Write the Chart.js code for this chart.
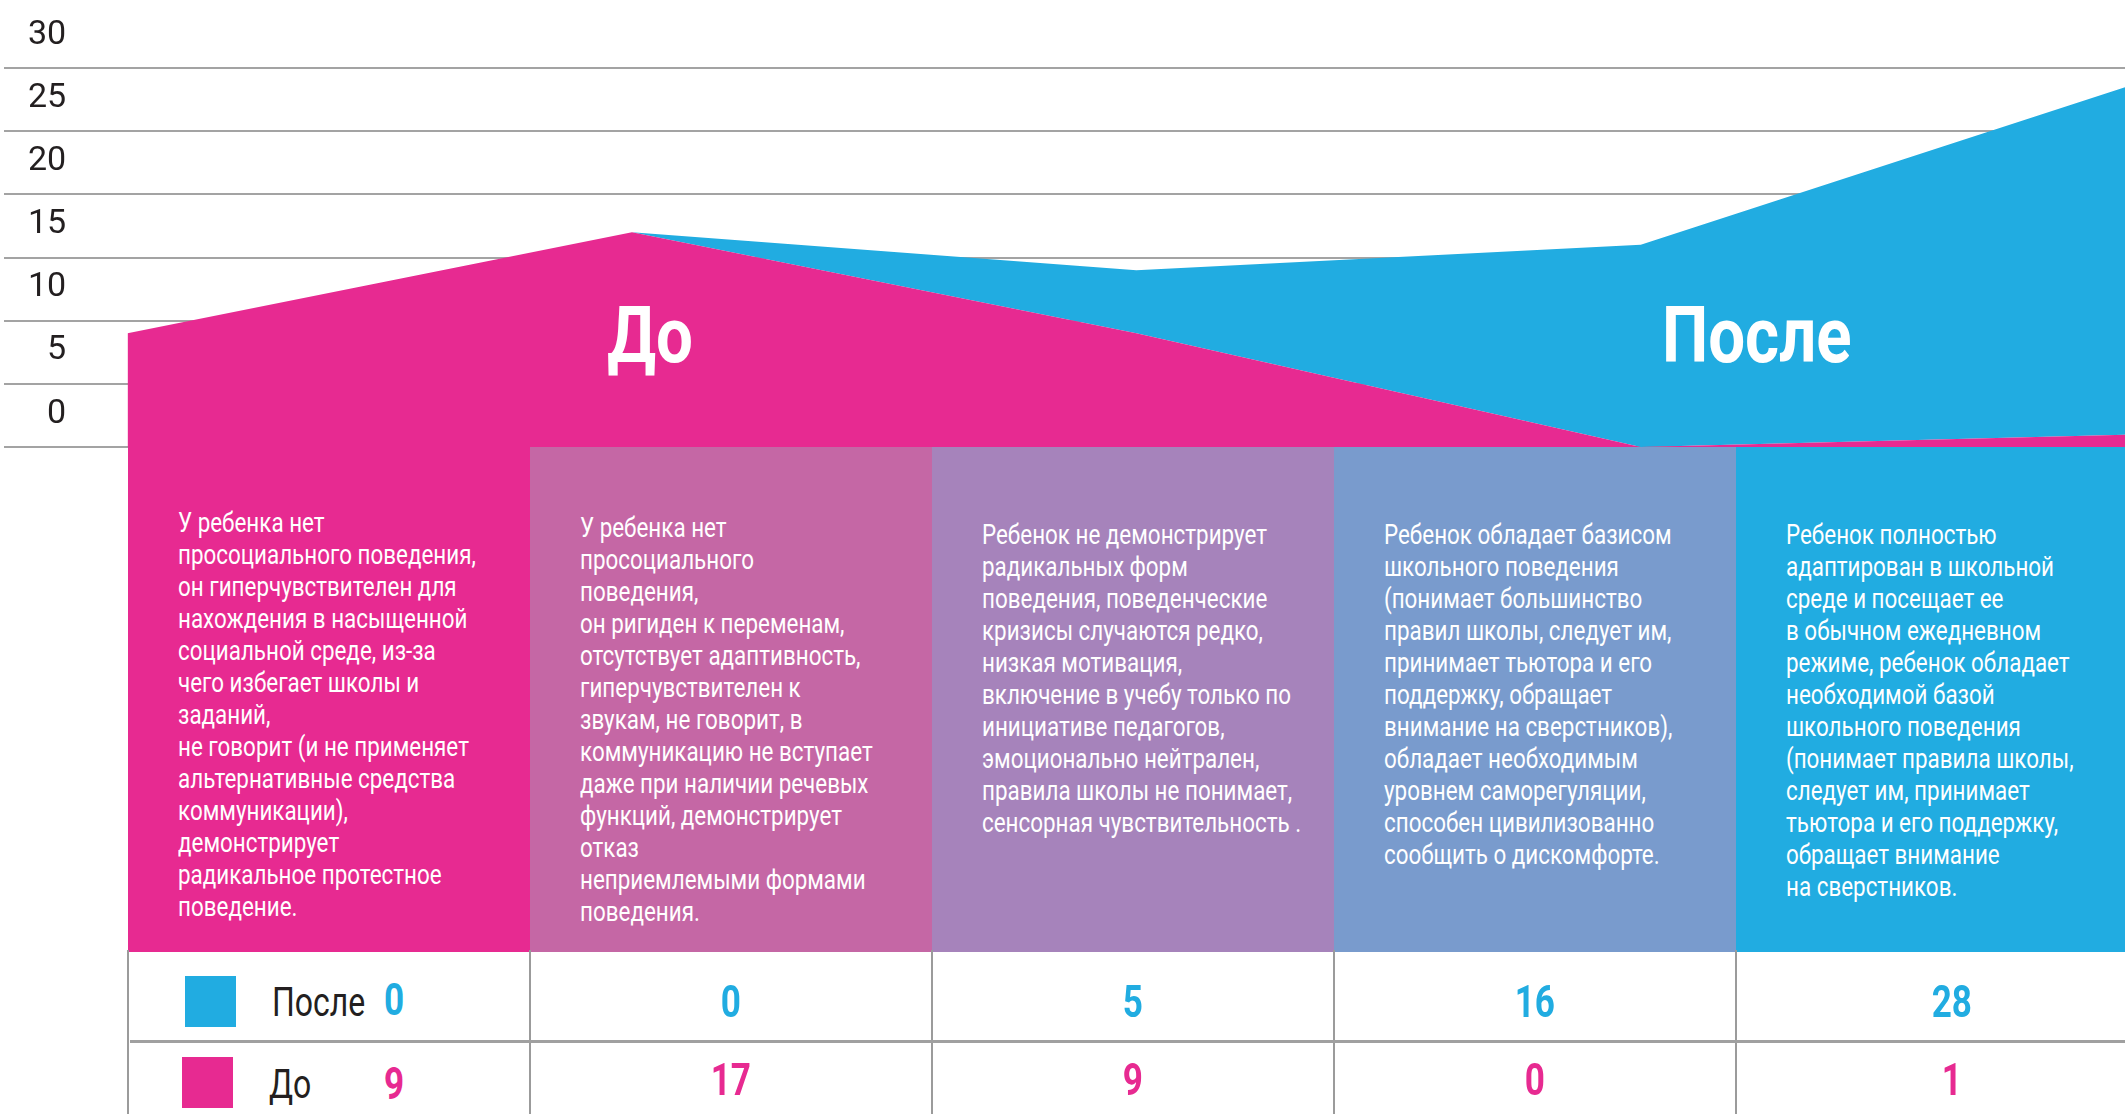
<!DOCTYPE html>
<html lang="ru">
<head>
<meta charset="utf-8">
<title>До / После</title>
<script src="https://cdn.jsdelivr.net/npm/chart.js@4.4.0/dist/chart.umd.min.js"></script>
<style>
    body { margin: 0; width: 2125px; height: 1114px; overflow: hidden; background: #fff; position: relative; font-family: Roboto, 'Noto Sans', sans-serif; color: #231F20; }
    #chart-wrap { position: absolute; left: 0; top: 0; width: 2125px; height: 449px; }
    .cell { position: absolute; top: 447px; height: 505px; width: 402px; box-sizing: border-box; padding-left: 50px; color: #fff; }
    .cell .txt { white-space: pre; font-size: 28px; line-height: 32px; transform: scaleX(0.8); transform-origin: 0 0; }
    .cell:nth-child(1) .txt { padding-top: 60px; }
    .cell:nth-child(2) .txt { padding-top: 65px; }
    .cell:nth-child(n+3) .txt { padding-top: 72px; }
    .vline { position: absolute; top: 950px; height: 164px; width: 2px; background: #9b9b9b; }
    .hline { position: absolute; left: 130px; top: 1040px; width: 2000px; height: 3px; background: #a0a0a0; }
    .val { position: absolute; width: 402px; text-align: center; font-weight: 700; font-size: 45px; line-height: 45px; }
    .val span, .lbl span { display: inline-block; transform: scaleX(0.78); }
    .val.first { width: auto; text-align: left; }
    .val.first span { transform-origin: 0 0; }
    .lbl { position: absolute; font-size: 41px; line-height: 41px; }
    .lbl span { transform-origin: 0 0; }
    .sq { position: absolute; width: 51px; height: 51px; }
</style>
</head>
<body>
<div id="chart-wrap"><canvas id="areaChart" width="2125" height="449"></canvas></div>
<div id="cells"></div>
<div id="table"></div>

<script>
// --- Data ---
const seriesNames = ['До', 'После'];
const before = [9, 17, 9, 0, 1];
const after = [0, 0, 5, 16, 28];
const yTicks = [0, 5, 10, 15, 20, 25, 30];
const stages = [
    'У ребенка нет\nпросоциального поведения,\nон гиперчувствителен для\nнахождения в насыщенной\nсоциальной среде, из-за\nчего избегает школы и\nзаданий,\nне говорит (и не применяет\nальтернативные средства\nкоммуникации),\nдемонстрирует\nрадикальное протестное\nповедение.',
    'У ребенка нет\nпросоциального\nповедения,\nон ригиден к переменам,\nотсутствует адаптивность,\nгиперчувствителен к\nзвукам, не говорит, в\nкоммуникацию не вступает\nдаже при наличии речевых\nфункций, демонстрирует\nотказ\nнеприемлемыми формами\nповедения.',
    'Ребенок не демонстрирует\nрадикальных форм\nповедения, поведенческие\nкризисы случаются редко,\nнизкая мотивация,\nвключение в учебу только по\nинициативе педагогов,\nэмоционально нейтрален,\nправила школы не понимает,\nсенсорная чувствительность .',
    'Ребенок обладает базисом\nшкольного поведения\n(понимает большинство\nправил школы, следует им,\nпринимает тьютора и его\nподдержку, обращает\nвнимание на сверстников),\nобладает необходимым\nуровнем саморегуляции,\nспособен цивилизованно\nсообщить о дискомфорте.',
    'Ребенок полностью\nадаптирован в школьной\nсреде и посещает ее\nв обычном ежедневном\nрежиме, ребенок обладает\nнеобходимой базой\nшкольного поведения\n(понимает правила школы,\nследует им, принимает\nтьютора и его поддержку,\nобращает внимание\nна сверстников.'
];

const PINK = '#E72A91';
const BLUE = '#21ACE1';
const cellColors = [PINK, '#C567A5', '#A683BB', '#799BCD', BLUE];

// --- Big labels inside the areas ---
const areaLabels = {
    id: 'areaLabels',
    afterDatasetsDraw(chart) {
        const { ctx, scales: { x, y } } = chart;
        const spots = [[seriesNames[0], 1.036], [seriesNames[1], 3.23]];
        ctx.save();
        ctx.fillStyle = '#fff';
        ctx.font = 'bold 77px Roboto';
        ctx.textAlign = 'center';
        ctx.textBaseline = 'alphabetic';
        spots.forEach(([text, at]) => {
            ctx.save();
            ctx.translate(x.getPixelForValue(at), y.getPixelForValue(6.75));
            ctx.scale(0.85, 1);
            ctx.fillText(text, 0, 0);
            ctx.restore();
        });
        ctx.restore();
    }
};

// --- Stacked area chart ---
const ctx = document.getElementById('areaChart').getContext('2d');
new Chart(ctx, {
    type: 'line',
    data: {
        datasets: [
            {
                label: seriesNames[0],
                data: before.map((v, i) => ({ x: i, y: v })),
                backgroundColor: PINK,
                fill: 'origin',
                borderWidth: 0,
                pointRadius: 0,
                tension: 0
            },
            {
                label: seriesNames[1],
                data: after.map((v, i) => ({ x: i, y: v })),
                backgroundColor: BLUE,
                fill: '-1',
                borderWidth: 0,
                pointRadius: 0,
                tension: 0
            }
        ]
    },
    options: {
        responsive: false,
        animation: false,
        layout: { padding: { left: 4, top: 68, right: 0, bottom: 2 } },
        plugins: { legend: { display: false }, tooltip: { enabled: false } },
        scales: {
            // last stage runs a little past the right edge, as in the original
            x: { type: 'linear', min: -0.245, max: 3.96, display: false },
            y: {
                stacked: true,
                min: 0,
                max: 30,
                afterBuildTicks: (s) => { s.ticks = yTicks.map(v => ({ value: v })); },
                // labels sit inside the plot, so the axis takes no room
                afterFit: (s) => { s.width = 0; s.paddingTop = 0; s.paddingBottom = 0; },
                ticks: {
                    mirror: true,
                    crossAlign: 'far',
                    padding: 24,
                    labelOffset: -33,
                    color: '#231F20',
                    font: { family: 'Roboto', size: 34 }
                },
                grid: { color: '#A3A3A3', lineWidth: 2, drawTicks: false },
                border: { display: false }
            }
        }
    },
    plugins: [areaLabels]
});

// --- Description cells ---
const COL_LEFT = 128;
const COL_W = 402;
const LAST_W = 432;
const cells = document.getElementById('cells');
stages.forEach((text, i) => {
    const cell = document.createElement('div');
    cell.className = 'cell';
    cell.style.left = (COL_LEFT + COL_W * i) + 'px';
    if (i === stages.length - 1) cell.style.width = LAST_W + 'px';
    cell.style.background = cellColors[i];
    const t = document.createElement('div');
    t.className = 'txt';
    t.textContent = text;
    cell.appendChild(t);
    cells.appendChild(cell);
});

// --- Values table ---
const table = document.getElementById('table');
function add(cls, styles, html) {
    const el = document.createElement('div');
    el.className = cls;
    Object.assign(el.style, styles);
    if (html !== undefined) el.innerHTML = html;
    table.appendChild(el);
    return el;
}

for (let i = 0; i < stages.length; i++) {
    add('vline', { left: (COL_LEFT - 1 + COL_W * i) + 'px' });
}
add('hline', {});

// legend in first column
add('sq', { left: '185px', top: '976px', background: BLUE });
add('sq', { left: '182px', top: '1057px', background: PINK });
add('lbl', { left: '272px', top: '982px' }, '<span>' + seriesNames[1] + '</span>');
add('lbl', { left: '269px', top: '1064px' }, '<span>' + seriesNames[0] + '</span>');

function colStyle(i, top, color) {
    const w = i === stages.length - 1 ? LAST_W : COL_W;
    return { left: (COL_LEFT + COL_W * i) + 'px', width: w + 'px', top: top + 'px', color: color };
}

const rowTop = { after: 979, before: 1057 };
after.forEach((v, i) => {
    if (i === 0) {
        add('val first', { left: '384px', top: (rowTop.after - 2) + 'px', color: BLUE }, '<span>' + v + '</span>');
    } else {
        add('val', colStyle(i, rowTop.after, BLUE), '<span>' + v + '</span>');
    }
});
before.forEach((v, i) => {
    if (i === 0) {
        add('val first', { left: '384px', top: (rowTop.before + 4) + 'px', color: PINK }, '<span>' + v + '</span>');
    } else {
        add('val', colStyle(i, rowTop.before, PINK), '<span>' + v + '</span>');
    }
});
</script>
</body>
</html>
